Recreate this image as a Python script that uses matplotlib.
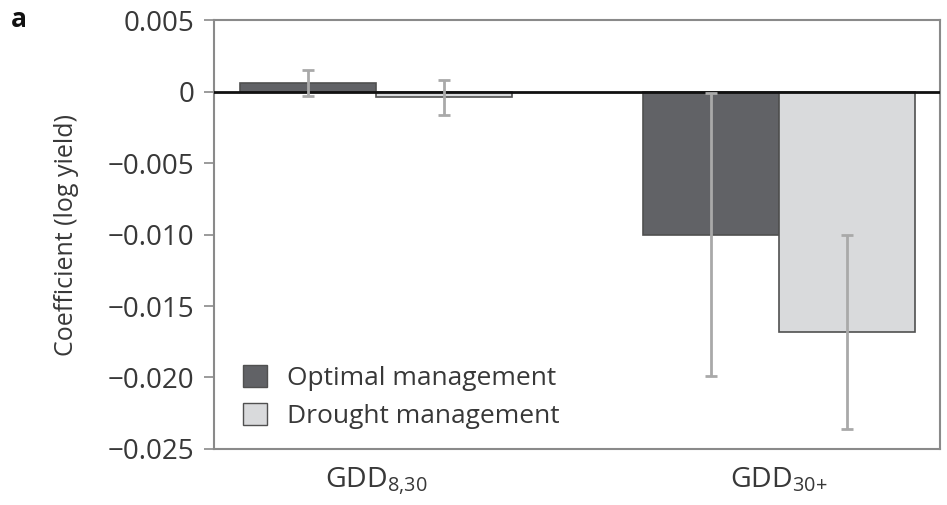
import matplotlib
matplotlib.use("Agg")
import matplotlib.pyplot as plt
import numpy as np
from matplotlib.patches import Patch

plt.rcParams["font.family"] = ["Open Sans", "DejaVu Sans"]
plt.rcParams["mathtext.fontset"] = "custom"
plt.rcParams["mathtext.rm"] = "Open Sans"
plt.rcParams["mathtext.it"] = "Open Sans"

categories = ["GDD$_{\\mathregular{8{,}30}}$", "GDD$_{\\mathregular{30{+}}}$"]
series_names = ["Optimal management", "Drought management"]
optimal = [0.00063, -0.0100]
optimal_err = [0.0009, 0.0099]
drought = [-0.0004, -0.0168]
drought_err = [0.00125, 0.0068]

C_OPT = "#616266"
C_DRO = "#d9dadc"
C_EDGE = "#505050"
C_ERR = "#a9a9a9"
C_TEXT = "#383838"
C_SPINE = "#8a8a8a"

fig = plt.figure(figsize=(9.47, 5.05), dpi=100)
ax = fig.add_axes([0.226, 0.111, 0.7666, 0.849])

x = np.arange(len(categories))
w = 0.337

ax.bar(x - w / 2, optimal, w, color=C_OPT, edgecolor=C_EDGE, linewidth=1.2, zorder=2)
ax.bar(x + w / 2, drought, w, color=C_DRO, edgecolor=C_EDGE, linewidth=1.2, zorder=2)
ax.axhline(0, color="#111111", lw=2, zorder=3)
ax.errorbar(x - w / 2, optimal, yerr=optimal_err, fmt="none", ecolor=C_ERR,
            elinewidth=2, capsize=4.3, capthick=2, zorder=4)
ax.errorbar(x + w / 2, drought, yerr=drought_err, fmt="none", ecolor=C_ERR,
            elinewidth=2, capsize=4.3, capthick=2, zorder=4)

ax.set_xlim(-0.402, 1.40)
ax.set_ylim(-0.025, 0.005)
ax.set_yticks([0.005, 0, -0.005, -0.010, -0.015, -0.020, -0.025])
ax.set_yticklabels(["0.005", "0", "\u22120.005", "\u22120.010", "\u22120.015",
                    "\u22120.020", "\u22120.025"])
ax.set_xticks(x)
ax.set_xticklabels(categories)
ax.tick_params(axis="x", length=0, pad=12, labelsize=20.5, labelcolor=C_TEXT)
ax.tick_params(axis="y", length=7, width=1.2, color=C_SPINE, pad=7,
               labelsize=20, labelcolor=C_TEXT)
for s in ax.spines.values():
    s.set_color(C_SPINE)
    s.set_linewidth(1.5)

ax.set_ylabel("Coefficient (log yield)", fontsize=18, color=C_TEXT, labelpad=21)

handles = [Patch(facecolor=C_OPT, edgecolor=C_EDGE),
           Patch(facecolor=C_DRO, edgecolor=C_EDGE)]
ax.legend(handles, series_names, loc="lower left", bbox_to_anchor=(0.026, 0.021),
          frameon=False, fontsize=19, labelcolor=C_TEXT, handlelength=0.9,
          handleheight=0.9, handletextpad=0.75, labelspacing=0.45,
          borderaxespad=0)

fig.text(0.011, 0.962, "a", fontsize=19, fontweight="bold", color="#111111",
         va="center")

fig.savefig("out.png", dpi=100)
